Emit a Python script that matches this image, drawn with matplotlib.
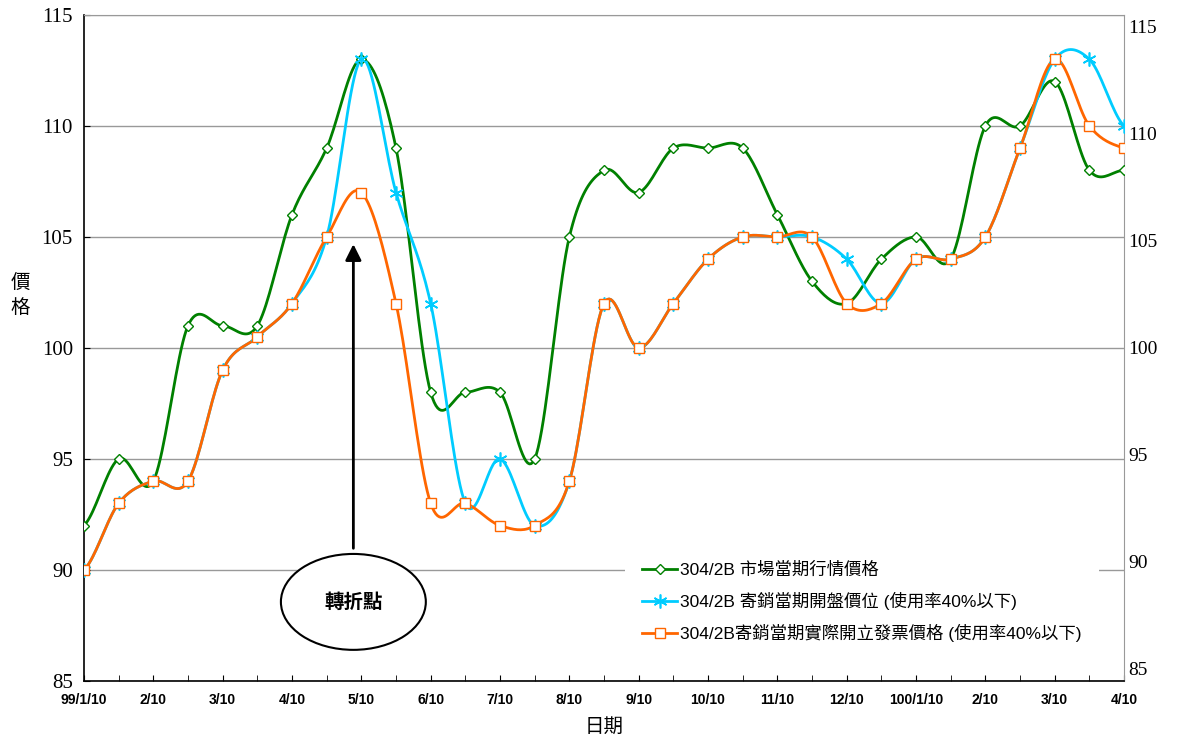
import numpy as np
import matplotlib
matplotlib.use('Agg')
import matplotlib.pyplot as plt
from matplotlib.patches import Ellipse

plt.rcParams['font.family'] = ['Liberation Serif', 'Noto Sans CJK TC', 'DejaVu Sans']

# 每半個月一筆資料 (99/1/10 ~ 100/4/10)
tick_labels = ['99/1/10', '2/10', '3/10', '4/10', '5/10', '6/10', '7/10', '8/10',
               '9/10', '10/10', '11/10', '12/10', '100/1/10', '2/10', '3/10', '4/10']

market = [92, 95, 94, 101, 101, 101, 106, 109, 113, 109, 98, 98, 98, 95, 105, 108,
          107, 109, 109, 109, 106, 103, 102, 104, 105, 104, 110, 110, 112, 108, 108]
open_price = [90, 93, 94, 94, 99, 100.5, 102, 105, 113, 107, 102, 93, 95, 92, 94, 102,
              100, 102, 104, 105, 105, 105, 104, 102, 104, 104, 105, 109, 113, 113, 110]
invoice = [90, 93, 94, 94, 99, 100.5, 102, 105, 107, 102, 93, 93, 92, 92, 94, 102,
           100, 102, 104, 105, 105, 105, 102, 102, 104, 104, 105, 109, 113, 110, 109]

names = ['304/2B 市場當期行情價格',
         '304/2B 寄銷當期開盤價位 (使用率40%以下)',
         '304/2B寄銷當期實際開立發票價格 (使用率40%以下)']


def smooth(y, n=20):
    # 類似 Excel 平滑線 (Catmull-Rom)
    y = np.asarray(y, dtype=float)
    p = np.concatenate([[y[0]], y, [y[-1]]])
    xs, ys = [], []
    for i in range(len(y) - 1):
        p0, p1, p2, p3 = p[i], p[i + 1], p[i + 2], p[i + 3]
        t = np.linspace(0, 1, n, endpoint=False)
        v = 0.5 * (2 * p1 + (-p0 + p2) * t + (2 * p0 - 5 * p1 + 4 * p2 - p3) * t ** 2
                   + (-p0 + 3 * p1 - 3 * p2 + p3) * t ** 3)
        xs.extend(i + t)
        ys.extend(v)
    xs.append(len(y) - 1)
    ys.append(y[-1])
    return np.array(xs), np.array(ys)


fig = plt.figure(figsize=(11.78, 7.45), dpi=100)
ax = fig.add_axes([0.0713, 0.086, 0.8829, 0.894])
x = np.arange(len(market))

series = [
    (market, '#008000', 'D', 5, 1.0),
    (open_price, '#00CCFF', (6, 2, 0), 10, 1.2),
    (invoice, '#FF6600', 's', 7, 1.0),
]
handles = []
for (vals, col, mk, ms, mew), name in zip(series, names):
    sx, sy = smooth(vals)
    ax.plot(sx, sy, color=col, lw=2, zorder=3)
    ax.plot(x, vals, linestyle='none', marker=mk, ms=ms, mfc='white', mec=col, mew=mew, zorder=4)
    h, = ax.plot([], [], color=col, lw=2, marker=mk, ms=ms, mfc='white', mec=col, mew=mew)
    handles.append(h)

ax.set_xlim(0, 30)
ax.set_ylim(85, 115)
ax.set_yticks(range(85, 116, 5))
ax.set_xticks(range(0, 31, 2))
ax.set_xticklabels(tick_labels, family=['Liberation Sans Narrow', 'Liberation Sans'],
                   fontweight='bold', fontsize=10)
ax.set_xticks(range(1, 31, 2), minor=True)
ax.tick_params(axis='x', which='both', direction='in', length=4, pad=9)
ax.tick_params(axis='y', direction='in', length=4, labelsize=15, pad=8)
ax.grid(axis='y', color='#999999', lw=1, zorder=1)
ax.spines['left'].set_linewidth(1.2)
ax.spines['bottom'].set_linewidth(1.2)
ax.spines['right'].set_color('#999999')
ax.spines['top'].set_color('#999999')

ax2 = ax.twinx()
ax2.set_ylim(84.4, 115.56)
ax2.set_yticks(range(85, 116, 5))
ax2.tick_params(axis='y', length=0, labelsize=14, pad=3)
for s in ax2.spines.values():
    s.set_visible(False)

ax.set_ylabel('價\n格', rotation=0, fontsize=14, family=['Noto Sans CJK TC'],
              va='center', linespacing=1.25)
ax.yaxis.set_label_coords(-0.061, 0.58)
ax.set_xlabel('日期', fontsize=14, family=['Noto Sans CJK TC'], labelpad=6)

# 轉折點標示
ax.annotate('', xy=(7.77, 104.8), xytext=(7.77, 90.85),
            arrowprops=dict(arrowstyle='-|>', color='black', lw=2, mutation_scale=24),
            zorder=6)
ell = Ellipse((7.77, 88.56), 4.18, 4.32, facecolor='white', edgecolor='black', lw=1.5, zorder=6)
ax.add_patch(ell)
ax.text(7.77, 88.56, '轉折點', ha='center', va='center', fontsize=14, fontweight='bold',
        family=['Noto Sans CJK TC'], zorder=7)

leg = ax.legend(handles, names, loc='upper left', bbox_to_anchor=(0.52, 0.205),
                frameon=True, fancybox=False, edgecolor='none', facecolor='white',
                framealpha=1, handlelength=2.0, handletextpad=0.2, labelspacing=0.8,
                borderpad=1.0, borderaxespad=0,
                prop={'family': ['Liberation Sans', 'Noto Sans CJK TC'], 'size': 12.5})
leg.set_zorder(5)

fig.savefig('out.png', dpi=100)
